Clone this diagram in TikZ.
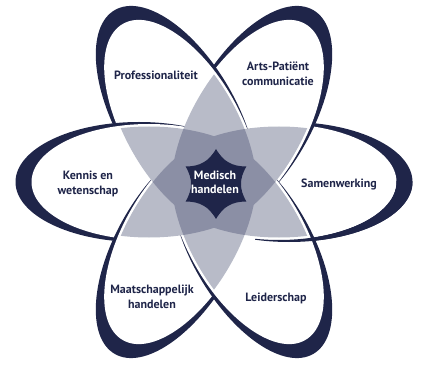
\documentclass[tikz,border=0pt]{standalone}
\usepackage{fontspec}
\setmainfont{PT Sans}
\usetikzlibrary{calc}
\definecolor{navy}{HTML}{1F2549}
\definecolor{lgrey}{HTML}{B8BBC8}
\definecolor{mgrey}{HTML}{8B8FA5}
\newcommand\outerE[1]{($(C)+(#1:75pt)$) ellipse [x radius=123.5pt, y radius=60pt, rotate=#1]}
\newcommand\innerE[1]{($(C)+(#1:65pt)$) ellipse [x radius=117.5pt, y radius=58pt, rotate=#1]}
\newcommand\greyE[1]{($(C)+(#1:65pt)$) ellipse [x radius=115pt, y radius=55.5pt, rotate=#1]}
\begin{document}
\begin{tikzpicture}[x=1pt,y=1pt,
  lbl/.style={text=navy, font=\bfseries\fontsize{12}{15}\selectfont, align=center, inner sep=0pt},
  ctr/.style={text=white, font=\bfseries\fontsize{12}{14}\selectfont, align=center, inner sep=0pt}]
\fill[white] (0,0) rectangle (422,364);
\useasboundingbox (0,0) rectangle (422,364);
\coordinate (C) at (214,182);
% petals: navy rim then white interior
\foreach \a in {0,60,120,180,240,300}{
  \fill[navy] \outerE{\a};
  \fill[white] \innerE{\a};
}
% close the cycle: rim of the right petal over the lower right petal
\begin{scope}
  \clip (255,0) rectangle (422,182);
  \fill[navy, even odd rule] \outerE{0} \innerE{0};
\end{scope}
% overlaps of two bands
\begin{scope}
  \clip \greyE{0} \greyE{180};
  \fill[lgrey] \greyE{60} \greyE{240};
  \fill[lgrey] \greyE{120} \greyE{300};
\end{scope}
\begin{scope}
  \clip \greyE{60} \greyE{240};
  \fill[lgrey] \greyE{120} \greyE{300};
\end{scope}
% overlap of three bands
\begin{scope}
  \clip \greyE{0} \greyE{180};
  \clip \greyE{60} \greyE{240};
  \fill[mgrey] \greyE{120} \greyE{300};
\end{scope}
% central star
\begin{scope}[shift={(216,180)}]
\fill[navy] (30:35)
  .. controls (37.8:28.7) and (47.7:25.5) .. (60:25)
  .. controls (72.3:25.5) and (82.2:28.7) .. (90:35)
  .. controls (97.8:28.7) and (107.7:25.5) .. (120:25)
  .. controls (132.3:25.5) and (142.2:28.7) .. (150:35)
  .. controls (157.8:28.7) and (167.7:25.5) .. (180:25)
  .. controls (192.3:25.5) and (202.2:28.7) .. (210:35)
  .. controls (217.8:28.7) and (227.7:25.5) .. (240:25)
  .. controls (252.3:25.5) and (262.2:28.7) .. (270:35)
  .. controls (277.8:28.7) and (287.7:25.5) .. (300:25)
  .. controls (312.3:25.5) and (322.2:28.7) .. (330:35)
  .. controls (337.8:28.7) and (347.7:25.5) .. (0:25)
  .. controls (12.3:25.5) and (22.2:28.7) .. (30:35) -- cycle;
\end{scope}
\node[ctr] (med) at (215,182) {Medisch\\handelen};
\node[lbl] (prof) at (156,289) {Professionaliteit};
\node[lbl] (arts) at (278,290) {Arts-Patiënt\\communicatie};
\node[lbl] (kennis) at (88,180) {Kennis en\\wetenschap};
\node[lbl] (samen) at (339,180) {Samenwerking};
\node[lbl] (maat) at (152,67) {Maatschappelijk\\handelen};
\node[lbl] (leider) at (276,66) {Leiderschap};
\end{tikzpicture}
\end{document}
